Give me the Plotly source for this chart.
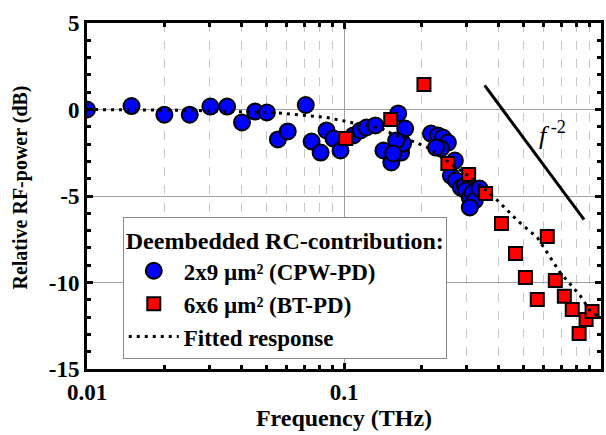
import math
import plotly.graph_objects as go

# Blue circles: 2x9 um^2 (CPW-PD)
cpw_f = [0.01, 0.0149, 0.0200, 0.0251, 0.0302, 0.0351, 0.0401, 0.0451, 0.0501, 0.0553,
         0.0604, 0.071, 0.0748, 0.0811, 0.0855, 0.091, 0.0969, 0.1088, 0.116, 0.1222,
         0.1324, 0.1625, 0.173, 0.1423, 0.1528, 0.1669, 0.1698, 0.1596, 0.1553, 0.218,
         0.232, 0.2427, 0.2537, 0.2383, 0.228, 0.27, 0.2605, 0.2725, 0.285, 0.2952,
         0.298, 0.3086, 0.317, 0.3228, 0.3086, 0.337]
cpw_db = [0.0, 0.2, -0.3, -0.3, 0.17, 0.17, -0.75, -0.12, -0.17, -1.73,
          -1.27, 0.26, -1.85, -2.49, -1.21, -1.68, -2.37, -1.5, -1.21, -1.04,
          -0.92, -0.23, -1.1, -2.37, -3.06, -2.49, -1.97, -1.79, -2.54, -1.39,
          -1.5, -1.62, -1.91, -2.25, -2.2, -2.95, -3.82, -4.1, -4.51, -4.39,
          -4.68, -5.09, -4.8, -5.26, -5.66, -4.57]

# Red squares: 6x6 um^2 (BT-PD)
bt_f = [0.1015, 0.152, 0.2047, 0.2536, 0.3056, 0.3556, 0.41, 0.618, 0.4648, 0.508,
        0.565, 0.664, 0.72, 0.773, 0.822, 0.875, 0.923]
bt_db = [-1.68, -0.58, 1.45, -3.12, -3.76, -4.86, -6.59, -7.34, -8.32, -9.71,
         -10.98, -9.88, -10.8, -11.56, -12.95, -12.14, -11.68]

# Fitted response (dotted)
fit_f = [0.01, 0.0273, 0.0558, 0.085, 0.104, 0.122, 0.14, 0.153, 0.182, 0.212,
         0.26, 0.311, 0.396, 0.473, 0.565, 0.693, 0.829, 0.906, 1.0]
fit_db = [0, -0.06, -0.2, -0.45, -0.72, -0.92, -1.1, -1.39, -1.79, -2.2,
          -3.12, -3.93, -5.26, -6.42, -7.4, -9.42, -10.75, -11.62, -12.1]

# f^-2 guide line
slope_f = [0.3526, 0.8594]
slope_db = [1.39, -6.36]

# label position of the f^-2 annotation (data units)
label_f = 0.646
label_db = -1.39

x_tickvals = [0.01, 0.1, 1]
x_ticktext = ["0.01", "0.1", "1"]
y_tickvals = [-15, -10, -5, 0, 5]
y_ticktext = ["-15", "-10", "-5", "0", "5"]

FONT = "Liberation Serif, Times New Roman, serif"

fig = go.Figure()

fig.add_trace(go.Scatter(
    x=slope_f, y=slope_db, mode="lines",
    line=dict(color="black", width=3), showlegend=False, hoverinfo="skip"))

fig.add_trace(go.Scatter(
    x=cpw_f, y=cpw_db, mode="markers", name="2x9 µm² (CPW-PD)",
    marker=dict(symbol="circle", size=16, color="#0000FF",
                line=dict(color="black", width=2))))

fig.add_trace(go.Scatter(
    x=bt_f, y=bt_db, mode="markers", name="6x6 µm² (BT-PD)",
    marker=dict(symbol="square", size=13, color="#FF0000",
                line=dict(color="black", width=2))))

fig.add_trace(go.Scatter(
    x=fit_f, y=fit_db, mode="lines", name="Fitted response",
    line=dict(color="black", width=3, dash="3px,5px")))

fig.add_annotation(
    x=math.log10(label_f), y=label_db, xref="x", yref="y", showarrow=False,
    text="<i>f</i><sup> -2</sup>",
    font=dict(family=FONT, size=26, color="black"))

# y-axis title as a rotated annotation
fig.add_annotation(
    x=-0.13, y=0.525, xref="paper", yref="paper", showarrow=False,
    xanchor="center", yanchor="middle", textangle=-90,
    text="<b>Relative RF-power (dB)</b>",
    font=dict(family=FONT, size=20, color="black"))

axis_common = dict(
    showline=True, linecolor="black", linewidth=3, mirror="allticks",
    ticks="inside", tickcolor="black", tickwidth=3, ticklen=6,
    zeroline=False,
    tickfont=dict(family=FONT, size=23, color="black"),
)

fig.update_xaxes(
    type="log", range=[-2, 0],
    tickvals=x_tickvals, ticktext=["<b>%s</b>" % t for t in x_ticktext],
    showgrid=True, gridcolor="#a0a0a0", gridwidth=1,
    minor=dict(ticks="inside", ticklen=4, tickwidth=3, tickcolor="black",
               showgrid=True, gridcolor="#c8c8c8", griddash="dash", gridwidth=1,
               dtick="D1"),
    title=dict(text="<b>Frequency (THz)</b>", standoff=6,
               font=dict(family=FONT, size=24, color="black")),
    **axis_common)

fig.update_yaxes(
    range=[-15, 5], tickvals=y_tickvals,
    ticktext=["<b>%s</b>" % t for t in y_ticktext],
    showgrid=True, gridcolor="#a0a0a0", gridwidth=1,
    minor=dict(ticks="inside", ticklen=4, tickwidth=3, tickcolor="black",
               dtick=1, showgrid=False),
    **axis_common)

fig.update_layout(
    width=606, height=435,
    margin=dict(l=87, r=2, t=23, b=66),
    paper_bgcolor="white", plot_bgcolor="white",
    font=dict(family=FONT, size=22, color="black"),
    legend=dict(
        x=0.0696, y=0.439, xanchor="left", yanchor="top",
        bgcolor="white", bordercolor="#888888", borderwidth=1,
        font=dict(family=FONT, size=23, color="black", weight="bold"),
        title=dict(text="<b>Deembedded RC-contribution:</b>",
                   font=dict(family=FONT, size=24, color="black")),
        itemwidth=50, tracegroupgap=0,
    ),
)

fig.write_html("out.html")
